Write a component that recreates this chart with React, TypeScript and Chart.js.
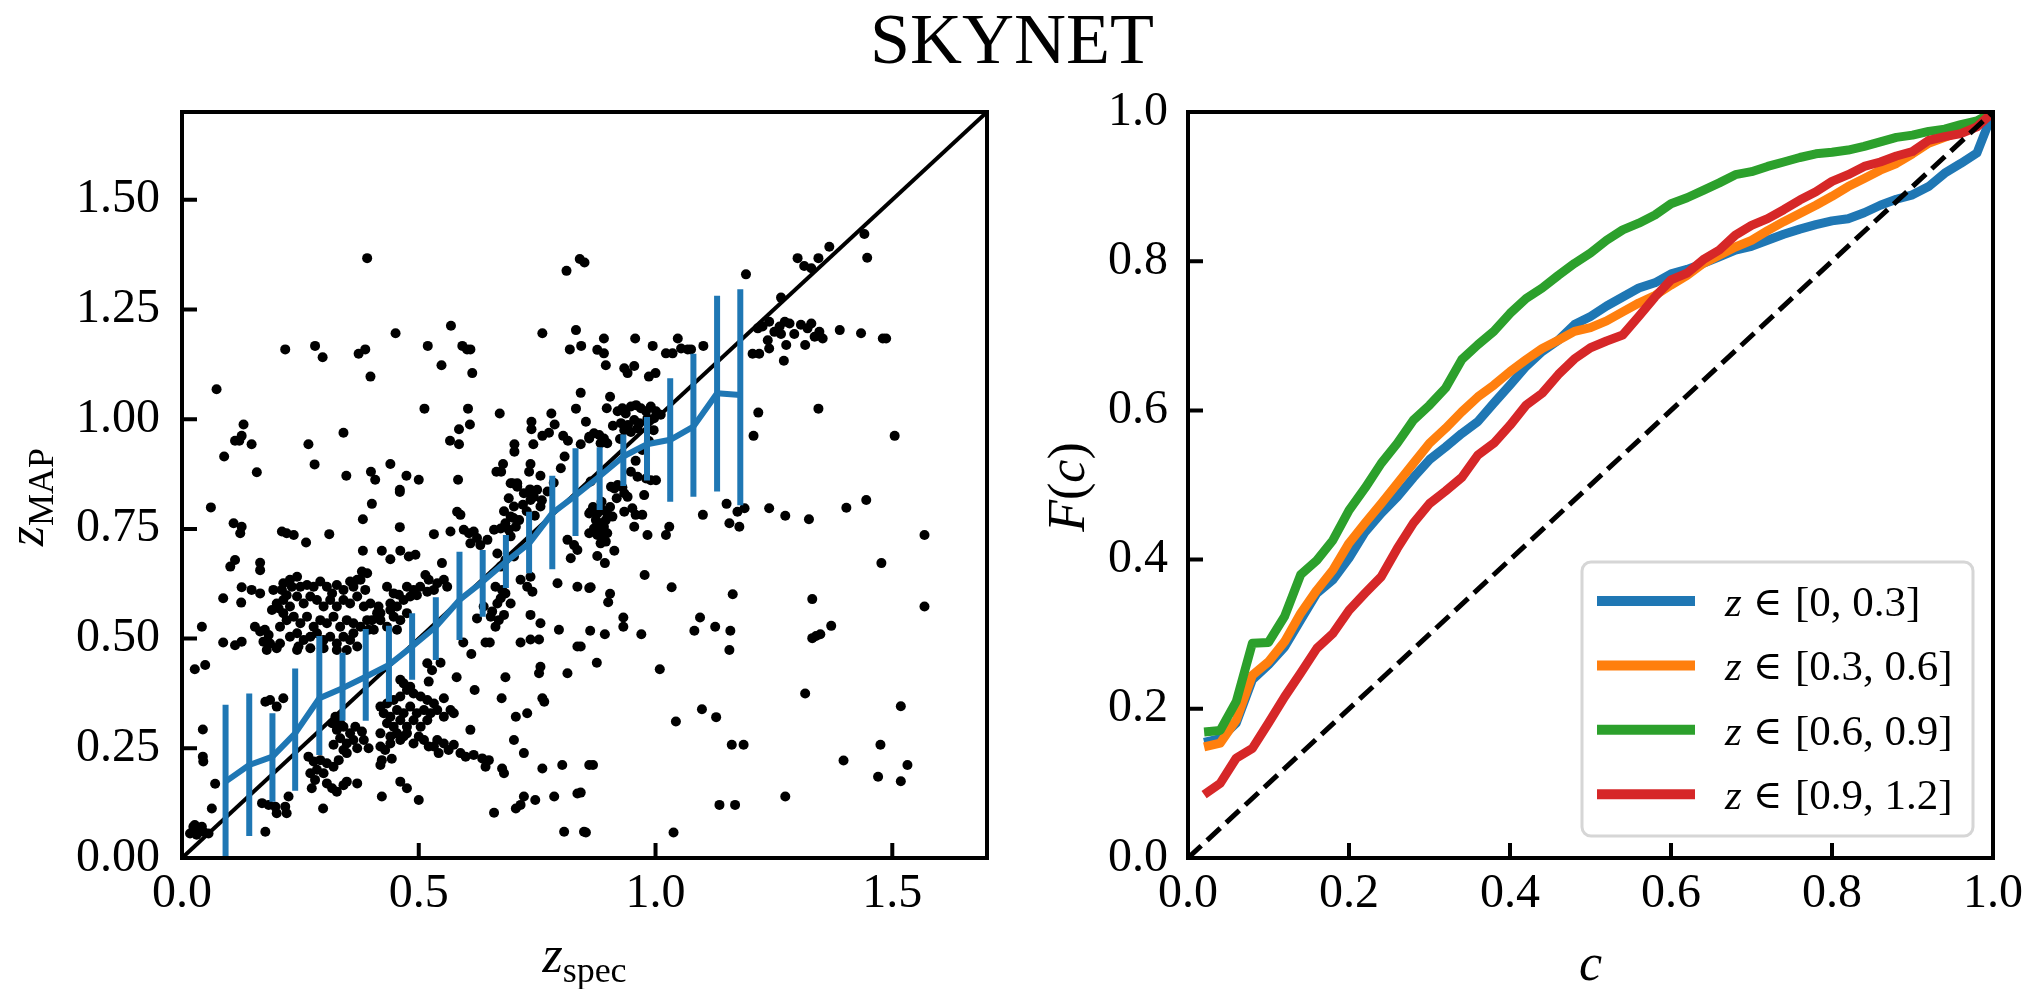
import React, { useEffect, useRef } from "react";
import { Chart, registerables } from "chart.js";

Chart.register(...registerables);

const SERIF = "'Liberation Serif', 'Times New Roman', Times, 'DejaVu Serif', serif";
const BLUE = "#1f77b4";
const ORANGE = "#ff7f0e";
const GREEN = "#2ca02c";
const RED = "#d62728";

const TITLE = "SKYNET";

// ---------- left panel: z_MAP vs z_spec ----------
const galaxies: [number, number][] = [
  [0.391, 1.367], [0.812, 1.338], [0.840, 1.365], [0.850, 1.357], [0.073, 1.068], [0.218, 1.159], [0.281, 1.167],
  [0.297, 1.141], [0.373, 1.149], [0.387, 1.159], [0.398, 1.097], [0.451, 1.196], [0.519, 1.167], [0.548, 1.123],
  [0.568, 1.213], [0.592, 1.167], [0.602, 1.159], [0.609, 1.159], [0.613, 1.105], [0.512, 1.024], [0.604, 1.024],
  [0.585, 0.977], [0.608, 0.988], [0.566, 0.951], [0.585, 0.943], [0.671, 1.013], [0.761, 1.196], [0.832, 1.203],
  [0.819, 1.159], [0.843, 1.167], [0.842, 1.060], [0.832, 1.024], [0.853, 0.994], [0.780, 1.013], [0.787, 0.988],
  [0.738, 0.994], [0.738, 0.977], [0.761, 0.962], [0.775, 0.969], [0.805, 0.962], [0.815, 0.951], [0.842, 0.943],
  [0.860, 0.960], [0.742, 0.943], [0.702, 0.943], [0.702, 0.926], [0.808, 0.915], [0.800, 0.888], [0.736, 0.898],
  [0.733, 0.880], [0.757, 0.871], [0.678, 0.898], [0.664, 0.880], [0.674, 0.880], [0.698, 0.854], [0.708, 0.854],
  [0.735, 0.840], [0.130, 0.988], [0.112, 0.951], [0.121, 0.951], [0.126, 0.962], [0.147, 0.943], [0.089, 0.915],
  [0.158, 0.879], [0.341, 0.969], [0.267, 0.943], [0.280, 0.897], [0.347, 0.871], [0.399, 0.880], [0.408, 0.862],
  [0.440, 0.898], [0.474, 0.871], [0.500, 0.862], [0.583, 0.862], [0.460, 0.839],
  [1.191, 1.330], [1.300, 1.367], [1.314, 1.349], [1.329, 1.344], [1.344, 1.367], [1.367, 1.393], [1.441, 1.422],
  [1.447, 1.368], [1.265, 1.277], [1.216, 1.207], [1.226, 1.211], [1.240, 1.222], [1.251, 1.199], [1.262, 1.211],
  [1.273, 1.222], [1.283, 1.218], [1.293, 1.194], [1.307, 1.215], [1.321, 1.207], [1.329, 1.218], [1.336, 1.188],
  [1.346, 1.199], [1.353, 1.184], [1.237, 1.180], [1.265, 1.194], [1.276, 1.169], [1.240, 1.161], [1.316, 1.169],
  [1.389, 1.203], [1.434, 1.196], [1.480, 1.184], [1.487, 1.184], [1.205, 1.149], [1.219, 1.149], [1.271, 1.133],
  [0.891, 1.184], [0.957, 1.184], [0.994, 1.167], [1.047, 1.184], [1.022, 1.150], [1.036, 1.150], [1.054, 1.161],
  [1.068, 1.159], [1.075, 1.159], [1.101, 1.167], [0.877, 1.158], [0.891, 1.150], [0.895, 1.123], [0.934, 1.116],
  [0.941, 1.105], [0.955, 1.121], [0.986, 1.097], [1.000, 1.105], [0.904, 1.051], [0.897, 1.025],
  [0.920, 1.018], [0.930, 1.025], [0.937, 1.013], [0.948, 1.029], [0.959, 1.032], [0.969, 1.025], [0.980, 1.018],
  [0.990, 1.029], [1.001, 1.018], [1.011, 1.010], [0.927, 0.991], [0.942, 0.987], [0.955, 0.998], [0.966, 0.991],
  [0.983, 1.002], [0.997, 1.002], [0.934, 0.975], [0.948, 0.971], [0.962, 0.979], [0.860, 0.956], [0.870, 0.968],
  [0.881, 0.964], [0.891, 0.956], [0.898, 0.945], [0.884, 0.945], [0.962, 0.869], [0.980, 0.865], [0.990, 0.861],
  [1.001, 0.861], [0.920, 0.850], [0.906, 0.846], [1.217, 1.015], [1.207, 0.962], [1.344, 1.024], [1.505, 0.962],
  [0.863, 0.858], [0.913, 0.842], [0.934, 0.831], [0.941, 0.823], [0.976, 0.827],
  [0.863, 0.789], [0.877, 0.785], [0.888, 0.793], [0.898, 0.785], [0.874, 0.770], [0.884, 0.763], [0.895, 0.770],
  [0.870, 0.751], [0.881, 0.747], [0.891, 0.755], [0.877, 0.736], [0.888, 0.729], [0.884, 0.717], [0.895, 0.721],
  [0.898, 0.740], [0.909, 0.778], [0.934, 0.789], [0.951, 0.797], [0.958, 0.782], [0.972, 0.782], [0.955, 0.755],
  [0.983, 0.736], [1.029, 0.755], [1.022, 0.736], [1.100, 0.782], [1.150, 0.807], [1.156, 0.763], [1.177, 0.755],
  [1.173, 0.789], [1.188, 0.797], [1.240, 0.797], [1.274, 0.780], [1.324, 0.772], [1.403, 0.798], [1.445, 0.816],
  [1.568, 0.736], [1.477, 0.672], [0.913, 0.700], [0.877, 0.688], [0.893, 0.672], [0.977, 0.645], [1.034, 0.617],
  [1.163, 0.601], [1.331, 0.590], [1.568, 0.573], [0.863, 0.617], [0.904, 0.602], [0.900, 0.583], [0.932, 0.548],
  [0.932, 0.527], [0.862, 0.518], [0.893, 0.510], [0.970, 0.510], [1.082, 0.518], [1.094, 0.548], [1.126, 0.527],
  [1.158, 0.518], [1.156, 0.474], [0.842, 0.482], [0.876, 0.445], [1.009, 0.430], [1.316, 0.375], [1.518, 0.346],
  [1.043, 0.311], [1.098, 0.339], [1.128, 0.321], [1.161, 0.258], [1.186, 0.258], [1.475, 0.258], [1.397, 0.222],
  [1.532, 0.212], [1.470, 0.185], [1.518, 0.175], [0.868, 0.212], [0.842, 0.149], [1.274, 0.140], [1.135, 0.121],
  [1.168, 0.121], [0.853, 0.058], [1.038, 0.058], [1.331, 0.501], [1.339, 0.506], [1.348, 0.510], [1.371, 0.529],
  [0.061, 0.799], [0.109, 0.763], [0.126, 0.755], [0.123, 0.740], [0.211, 0.744], [0.221, 0.740], [0.236, 0.736],
  [0.262, 0.719], [0.311, 0.738], [0.382, 0.772], [0.401, 0.807], [0.460, 0.834], [0.460, 0.754], [0.532, 0.738],
  [0.567, 0.744], [0.581, 0.789], [0.588, 0.782], [0.595, 0.748], [0.606, 0.740], [0.616, 0.744], [0.623, 0.729],
  [0.609, 0.717], [0.630, 0.713], [0.645, 0.725], [0.659, 0.748], [0.673, 0.751], [0.683, 0.763], [0.690, 0.748],
  [0.694, 0.733], [0.705, 0.755], [0.712, 0.770], [0.680, 0.790], [0.694, 0.778], [0.701, 0.801], [0.694, 0.854],
  [0.708, 0.846], [0.722, 0.831], [0.736, 0.816], [0.743, 0.823], [0.757, 0.801], [0.733, 0.831], [0.750, 0.839],
  [0.814, 0.725], [0.828, 0.713], [0.835, 0.702], [0.821, 0.683], [0.860, 0.785], [0.860, 0.740],
  [0.666, 0.694], [0.683, 0.679], [0.701, 0.687], [0.673, 0.664],
  [0.102, 0.664], [0.112, 0.679], [0.165, 0.673], [0.165, 0.656], [0.382, 0.700], [0.422, 0.700], [0.440, 0.681],
  [0.461, 0.700], [0.479, 0.687], [0.493, 0.691], [0.380, 0.653], [0.370, 0.634], [0.514, 0.645], [0.549, 0.672],
  [0.521, 0.634], [0.539, 0.626], [0.553, 0.634], [0.560, 0.618], [0.532, 0.611], [0.503, 0.618], [0.489, 0.611],
  [0.475, 0.618], [0.458, 0.600], [0.447, 0.603], [0.433, 0.618], [0.440, 0.580], [0.454, 0.573], [0.468, 0.588],
  [0.482, 0.596], [0.496, 0.599], [0.518, 0.607], [0.447, 0.550], [0.461, 0.542], [0.475, 0.558], [0.433, 0.527],
  [0.454, 0.520], [0.440, 0.565], [0.419, 0.558], [0.415, 0.573], [0.087, 0.592], [0.125, 0.582], [0.126, 0.617],
  [0.147, 0.611], [0.165, 0.603], [0.042, 0.527], [0.027, 0.430], [0.049, 0.440], [0.087, 0.491], [0.112, 0.485],
  [0.126, 0.493], [0.154, 0.527], [0.165, 0.516], [0.175, 0.520], [0.183, 0.508], [0.172, 0.493], [0.186, 0.489],
  [0.179, 0.474], [0.200, 0.478], [0.207, 0.489], [0.190, 0.565], [0.200, 0.580], [0.211, 0.611], [0.221, 0.599],
  [0.232, 0.618], [0.193, 0.611],
  [0.214, 0.626], [0.228, 0.634], [0.243, 0.641], [0.250, 0.618], [0.264, 0.622], [0.278, 0.618], [0.292, 0.630],
  [0.306, 0.618], [0.317, 0.603], [0.327, 0.622], [0.341, 0.611], [0.355, 0.630], [0.362, 0.618], [0.377, 0.634],
  [0.387, 0.611], [0.391, 0.649], [0.214, 0.588], [0.228, 0.573], [0.243, 0.596], [0.257, 0.580], [0.271, 0.596],
  [0.285, 0.588], [0.299, 0.573], [0.313, 0.588], [0.327, 0.573], [0.341, 0.588], [0.355, 0.580], [0.370, 0.596],
  [0.384, 0.573], [0.398, 0.580], [0.221, 0.542], [0.236, 0.550], [0.250, 0.535], [0.264, 0.550], [0.278, 0.527],
  [0.292, 0.542], [0.306, 0.535], [0.320, 0.550], [0.334, 0.527], [0.348, 0.542], [0.362, 0.535], [0.377, 0.527],
  [0.391, 0.542], [0.228, 0.504], [0.243, 0.512], [0.257, 0.497], [0.271, 0.504], [0.285, 0.512], [0.299, 0.497],
  [0.313, 0.504], [0.327, 0.489], [0.341, 0.504], [0.355, 0.497], [0.370, 0.482], [0.348, 0.474], [0.327, 0.474],
  [0.362, 0.512], [0.207, 0.527], [0.214, 0.558], [0.204, 0.569], [0.401, 0.542], [0.412, 0.558], [0.419, 0.542],
  [0.394, 0.520], [0.405, 0.520], [0.246, 0.482], [0.243, 0.474], [0.271, 0.478], [0.299, 0.478],
  [0.419, 0.345], [0.433, 0.352], [0.447, 0.360], [0.461, 0.368], [0.468, 0.398], [0.475, 0.383], [0.489, 0.375],
  [0.504, 0.368], [0.518, 0.360], [0.532, 0.352], [0.553, 0.364], [0.567, 0.337], [0.574, 0.330], [0.426, 0.330],
  [0.440, 0.322], [0.454, 0.337], [0.468, 0.330], [0.482, 0.345], [0.496, 0.330], [0.511, 0.337], [0.525, 0.330],
  [0.539, 0.337], [0.553, 0.322], [0.433, 0.307], [0.447, 0.299], [0.461, 0.314], [0.475, 0.299], [0.489, 0.314],
  [0.504, 0.299], [0.518, 0.314], [0.419, 0.284], [0.440, 0.277], [0.454, 0.284], [0.468, 0.277], [0.461, 0.406],
  [0.482, 0.390],
  [0.317, 0.307], [0.327, 0.292], [0.341, 0.299], [0.355, 0.284], [0.366, 0.299], [0.380, 0.288], [0.334, 0.273],
  [0.348, 0.261], [0.362, 0.269], [0.384, 0.269], [0.320, 0.258], [0.341, 0.246], [0.370, 0.250], [0.394, 0.250],
  [0.324, 0.322], [0.334, 0.307],
  [0.267, 0.231], [0.278, 0.220], [0.285, 0.201], [0.271, 0.193], [0.281, 0.178], [0.292, 0.223], [0.306, 0.216],
  [0.320, 0.208], [0.274, 0.159], [0.306, 0.170], [0.317, 0.159], [0.327, 0.151], [0.341, 0.166], [0.348, 0.174],
  [0.370, 0.170], [0.299, 0.193], [0.331, 0.223], [0.348, 0.239], [0.298, 0.113],
  [0.419, 0.254], [0.429, 0.246], [0.440, 0.261], [0.422, 0.223], [0.443, 0.226], [0.419, 0.212], [0.461, 0.269],
  [0.475, 0.284], [0.489, 0.261], [0.500, 0.277], [0.511, 0.269], [0.521, 0.254], [0.532, 0.254], [0.539, 0.269],
  [0.542, 0.239], [0.553, 0.261], [0.563, 0.246], [0.574, 0.258], [0.588, 0.239], [0.599, 0.231], [0.609, 0.292],
  [0.616, 0.235], [0.634, 0.227], [0.641, 0.208], [0.648, 0.223], [0.676, 0.204], [0.680, 0.193], [0.701, 0.269],
  [0.722, 0.239], [0.729, 0.330], [0.705, 0.322], [0.618, 0.383], [0.580, 0.412], [0.521, 0.402], [0.518, 0.444],
  [0.528, 0.428], [0.546, 0.445], [0.594, 0.491], [0.611, 0.465], [0.641, 0.491], [0.650, 0.491], [0.623, 0.546],
  [0.637, 0.573], [0.652, 0.550], [0.662, 0.527], [0.669, 0.542], [0.680, 0.554], [0.673, 0.592], [0.676, 0.611],
  [0.666, 0.580], [0.694, 0.580], [0.683, 0.603], [0.662, 0.618], [0.655, 0.562], [0.715, 0.491], [0.736, 0.498],
  [0.754, 0.498], [0.736, 0.554], [0.757, 0.535], [0.796, 0.520], [0.814, 0.421], [0.835, 0.482], [0.757, 0.436],
  [0.754, 0.421], [0.683, 0.412], [0.675, 0.364], [0.761, 0.364], [0.765, 0.356], [0.761, 0.204], [0.803, 0.212],
  [0.722, 0.140], [0.746, 0.132], [0.786, 0.140], [0.835, 0.147], [0.860, 0.212], [0.705, 0.113], [0.715, 0.121],
  [0.659, 0.103], [0.807, 0.060], [0.849, 0.060], [0.422, 0.140], [0.461, 0.174], [0.475, 0.159], [0.500, 0.132],
  [0.793, 0.626], [0.835, 0.618], [0.860, 0.615], [0.736, 0.641], [0.729, 0.618], [0.715, 0.634], [0.740, 0.607],
  [0.024, 0.071], [0.035, 0.064], [0.045, 0.060], [0.056, 0.056], [0.031, 0.053], [0.017, 0.056], [0.027, 0.075],
  [0.042, 0.071], [0.063, 0.113], [0.070, 0.169], [0.044, 0.293], [0.044, 0.231], [0.045, 0.220], [0.176, 0.060],
  [0.169, 0.125], [0.183, 0.121], [0.200, 0.102], [0.197, 0.117], [0.221, 0.102], [0.225, 0.140], [0.218, 0.117],
  [0.176, 0.356], [0.186, 0.360], [0.200, 0.345], [0.214, 0.364],
  [0.868, 0.800], [0.886, 0.812], [0.904, 0.800], [0.918, 0.820], [0.930, 0.845], [0.948, 0.880], [0.958, 0.905],
  [0.972, 0.930], [0.986, 0.950], [0.996, 0.975], [0.925, 0.955], [0.910, 0.985], [0.720, 0.805], [0.728, 0.790],
  [0.745, 0.780], [0.760, 0.815], [0.772, 0.835], [0.785, 0.855], [0.700, 0.775], [0.690, 0.820],
];

const binZ = [0.092, 0.142, 0.191, 0.239, 0.290, 0.339, 0.388, 0.437, 0.486, 0.536, 0.586, 0.635,
  0.684, 0.733, 0.782, 0.831, 0.882, 0.932, 0.982, 1.031, 1.080, 1.130, 1.179];
const binMean = [0.174, 0.212, 0.231, 0.284, 0.364, 0.387, 0.413, 0.440, 0.482, 0.527, 0.588, 0.630,
  0.675, 0.717, 0.786, 0.826, 0.870, 0.915, 0.943, 0.953, 0.983, 1.059, 1.055];
const binLow = [0.0, 0.050, 0.128, 0.153, 0.235, 0.313, 0.313, 0.356, 0.406, 0.451, 0.497, 0.550,
  0.615, 0.649, 0.658, 0.734, 0.793, 0.848, 0.860, 0.812, 0.823, 0.835, 0.804];
const binHigh = [0.349, 0.375, 0.330, 0.432, 0.506, 0.468, 0.522, 0.529, 0.558, 0.594, 0.698, 0.702,
  0.736, 0.789, 0.871, 0.934, 0.936, 0.965, 1.005, 1.093, 1.149, 1.281, 1.296];

const leftRange = [0, 1.7];
const leftXTicks = [0, 0.5, 1.0, 1.5];
const leftYTicks = [0, 0.25, 0.5, 0.75, 1.0, 1.25, 1.5];

// ---------- right panel: F(c) ----------
const cGrid = [0.02, 0.04, 0.06, 0.08, 0.10, 0.12, 0.14, 0.16, 0.18, 0.20,
  0.22, 0.24, 0.26, 0.28, 0.30, 0.32, 0.34, 0.36, 0.38, 0.40,
  0.42, 0.44, 0.46, 0.48, 0.50, 0.52, 0.54, 0.56, 0.58, 0.60,
  0.62, 0.64, 0.66, 0.68, 0.70, 0.72, 0.74, 0.76, 0.78, 0.80,
  0.82, 0.84, 0.86, 0.88, 0.90, 0.92, 0.94, 0.96, 0.98, 1.00];
const fBin1 = [0.155, 0.160, 0.181, 0.239, 0.259, 0.283, 0.319, 0.355, 0.373, 0.402,
  0.437, 0.462, 0.484, 0.510, 0.534, 0.551, 0.569, 0.585, 0.610, 0.634,
  0.659, 0.679, 0.694, 0.715, 0.726, 0.740, 0.752, 0.764, 0.771, 0.783,
  0.789, 0.797, 0.806, 0.815, 0.820, 0.828, 0.836, 0.843, 0.849, 0.854,
  0.857, 0.865, 0.875, 0.883, 0.889, 0.900, 0.918, 0.931, 0.945, 1.0];
const fBin2 = [0.149, 0.154, 0.185, 0.245, 0.263, 0.290, 0.328, 0.359, 0.386, 0.422,
  0.449, 0.475, 0.502, 0.529, 0.556, 0.576, 0.598, 0.618, 0.634, 0.652,
  0.668, 0.683, 0.694, 0.706, 0.711, 0.720, 0.732, 0.744, 0.754, 0.768,
  0.781, 0.797, 0.808, 0.819, 0.828, 0.841, 0.853, 0.864, 0.875, 0.887,
  0.900, 0.911, 0.922, 0.931, 0.944, 0.958, 0.966, 0.974, 0.983, 1.0];
const fBin3 = [0.169, 0.171, 0.210, 0.288, 0.289, 0.324, 0.380, 0.399, 0.426, 0.466,
  0.496, 0.529, 0.556, 0.587, 0.607, 0.630, 0.668, 0.688, 0.706, 0.730,
  0.750, 0.764, 0.781, 0.797, 0.811, 0.828, 0.842, 0.851, 0.862, 0.877,
  0.885, 0.895, 0.905, 0.916, 0.920, 0.927, 0.933, 0.939, 0.944, 0.946,
  0.949, 0.954, 0.960, 0.966, 0.969, 0.974, 0.977, 0.983, 0.988, 1.0];
const fBin4 = [0.085, 0.100, 0.134, 0.147, 0.181, 0.216, 0.248, 0.281, 0.301, 0.332,
  0.355, 0.377, 0.415, 0.449, 0.475, 0.492, 0.510, 0.540, 0.556, 0.580,
  0.607, 0.623, 0.648, 0.669, 0.684, 0.693, 0.701, 0.726, 0.752, 0.775,
  0.784, 0.802, 0.815, 0.835, 0.848, 0.857, 0.869, 0.882, 0.893, 0.907,
  0.916, 0.927, 0.933, 0.941, 0.947, 0.962, 0.967, 0.971, 0.980, 1.0];
const binLabels = ["z ∈ [0, 0.3]", "z ∈ [0.3, 0.6]", "z ∈ [0.6, 0.9]", "z ∈ [0.9, 1.2]"];
const binColors = [BLUE, ORANGE, GREEN, RED];
const rightTicks = [0, 0.2, 0.4, 0.6, 0.8, 1.0];

// ---------- shared helpers ----------
const TICK_FONT = { family: SERIF, size: 48 };

const frameTicksPlugin = {
  id: "frameTicks",
  afterDatasetsDraw(chart: any) {
    const { ctx, chartArea: a } = chart;
    const xs = chart.scales.x;
    const ys = chart.scales.y;
    ctx.save();
    ctx.strokeStyle = "#000";
    ctx.lineCap = "butt";
    ctx.lineWidth = 4;
    ctx.beginPath();
    for (const t of xs.ticks) {
      const p = xs.getPixelForValue(t.value);
      ctx.moveTo(p, a.bottom);
      ctx.lineTo(p, a.bottom - 15);
    }
    for (const t of ys.ticks) {
      const p = ys.getPixelForValue(t.value);
      ctx.moveTo(a.left, p);
      ctx.lineTo(a.left + 15, p);
    }
    ctx.stroke();
    ctx.lineWidth = 4;
    ctx.strokeRect(a.left, a.top, a.right - a.left, a.bottom - a.top);
    ctx.restore();
  },
};

type Part = { text: string; italic?: boolean; size: number; shift?: number };

function drawParts(ctx: CanvasRenderingContext2D, parts: Part[], x: number, y: number, center = true) {
  const widths = parts.map((p) => {
    ctx.font = `${p.italic ? "italic " : ""}${p.size}px ${SERIF}`;
    return ctx.measureText(p.text).width;
  });
  const total = widths.reduce((s, w) => s + w, 0);
  let cx = center ? x - total / 2 : x;
  parts.forEach((p, i) => {
    ctx.font = `${p.italic ? "italic " : ""}${p.size}px ${SERIF}`;
    ctx.fillText(p.text, cx, y + (p.shift || 0));
    cx += widths[i];
  });
}

function linearAxis(range: number[], ticks: number[], digits: number, isX: boolean, fitSize: number, padding: number) {
  return {
    type: "linear" as const,
    min: range[0],
    max: range[1],
    grid: { display: false, drawTicks: false },
    border: { display: false },
    afterBuildTicks: (s: any) => {
      s.ticks = ticks.map((v) => ({ value: v }));
    },
    afterFit: (s: any) => {
      if (isX) s.height = fitSize;
      else s.width = fitSize;
    },
    ticks: {
      font: TICK_FONT,
      color: "#000",
      padding,
      autoSkip: false,
      maxRotation: 0,
      minRotation: 0,
      callback: (v: any) => Number(v).toFixed(digits),
    },
  };
}

const leftLabelsPlugin = {
  id: "leftLabels",
  afterDraw(chart: any) {
    const { ctx, chartArea: a } = chart;
    ctx.save();
    ctx.fillStyle = "#000";
    ctx.textBaseline = "alphabetic";
    ctx.textAlign = "left";
    drawParts(ctx, [
      { text: "z", italic: true, size: 52 },
      { text: "spec", size: 36, shift: 10 },
    ], (a.left + a.right) / 2, 972);
    ctx.translate(43, 497);
    ctx.rotate(-Math.PI / 2);
    drawParts(ctx, [
      { text: "z", italic: true, size: 52 },
      { text: "MAP", size: 36, shift: 10 },
    ], 0, 0);
    ctx.restore();
  },
};

const rightLabelsPlugin = {
  id: "rightLabels",
  afterDraw(chart: any) {
    const { ctx, chartArea: a } = chart;
    ctx.save();
    ctx.fillStyle = "#000";
    ctx.textBaseline = "alphabetic";
    ctx.textAlign = "left";
    drawParts(ctx, [{ text: "c", italic: true, size: 52 }], (a.left + a.right) / 2, 980);
    ctx.save();
    ctx.translate(74, 487);
    ctx.rotate(-Math.PI / 2);
    drawParts(ctx, [
      { text: "F", italic: true, size: 52 },
      { text: "(", size: 52 },
      { text: "c", italic: true, size: 52 },
      { text: ")", size: 52 },
    ], 0, 0);
    ctx.restore();

    // legend
    const box = { left: 572, right: 963, top: 562, bottom: 836, r: 9 };
    ctx.beginPath();
    ctx.moveTo(box.left + box.r, box.top);
    ctx.arcTo(box.right, box.top, box.right, box.bottom, box.r);
    ctx.arcTo(box.right, box.bottom, box.left, box.bottom, box.r);
    ctx.arcTo(box.left, box.bottom, box.left, box.top, box.r);
    ctx.arcTo(box.left, box.top, box.right, box.top, box.r);
    ctx.closePath();
    ctx.fillStyle = "rgba(255,255,255,0.8)";
    ctx.fill();
    ctx.strokeStyle = "#d6d6d6";
    ctx.lineWidth = 3;
    ctx.stroke();
    chart.data.datasets.forEach((ds: any, i: number) => {
      if (!ds.label) return;
      const rowY = 601 + i * 64.4;
      ctx.strokeStyle = ds.borderColor;
      ctx.lineWidth = 10;
      ctx.lineCap = "butt";
      ctx.beginPath();
      ctx.moveTo(587, rowY);
      ctx.lineTo(685, rowY);
      ctx.stroke();
      ctx.fillStyle = "#000";
      const [sym, rest] = ds.label.split(" ∈ ");
      ctx.font = `italic 43px ${SERIF}`;
      ctx.fillText(sym, 715, rowY + 15);
      ctx.font = `40px ${SERIF}`;
      ctx.fillText("∈", 743, rowY + 14);
      ctx.font = `43px ${SERIF}`;
      ctx.fillText(rest, 785, rowY + 15);
    });
    ctx.restore();
  },
};

export default function App() {
  const leftRef = useRef<HTMLCanvasElement>(null);
  const rightRef = useRef<HTMLCanvasElement>(null);

  useEffect(() => {
    const errData: any[] = [];
    binZ.forEach((z, i) => {
      errData.push({ x: z, y: binLow[i] });
      errData.push({ x: z, y: binHigh[i] });
      errData.push({ x: z, y: null });
    });
    const left = new Chart(leftRef.current!, {
      type: "scatter",
      data: {
        datasets: [
          {
            type: "scatter",
            data: galaxies.map(([x, y]) => ({ x, y })),
            pointRadius: 5,
            pointBorderWidth: 0,
            backgroundColor: "#000",
            borderColor: "#000",
            order: 4,
            clip: 0,
          } as any,
          {
            type: "line",
            data: [{ x: leftRange[0], y: leftRange[0] }, { x: leftRange[1], y: leftRange[1] }],
            borderColor: "#000",
            borderWidth: 4,
            pointRadius: 0,
            order: 3,
            clip: 0,
          } as any,
          {
            type: "line",
            data: errData,
            borderColor: BLUE,
            borderWidth: 6,
            pointRadius: 0,
            spanGaps: false,
            order: 2,
            clip: 0,
          } as any,
          {
            type: "line",
            data: binZ.map((z, i) => ({ x: z, y: binMean[i] })),
            borderColor: BLUE,
            borderWidth: 6,
            borderJoinStyle: "round",
            pointRadius: 0,
            order: 1,
            clip: 0,
          } as any,
        ],
      },
      options: {
        animation: false,
        responsive: false,
        devicePixelRatio: 1,
        events: [],
        layout: { padding: { left: 0, right: 23, top: 112, bottom: 0 } },
        plugins: { legend: { display: false }, tooltip: { enabled: false }, title: { display: false } },
        scales: {
          x: linearAxis(leftRange, leftXTicks, 1, true, 131, 8),
          y: linearAxis(leftRange, leftYTicks, 2, false, 182, 22),
        },
      } as any,
      plugins: [frameTicksPlugin, leftLabelsPlugin],
    });

    const curves = [fBin1, fBin2, fBin3, fBin4];
    const right = new Chart(rightRef.current!, {
      type: "line",
      data: {
        datasets: [
          ...curves.map((vals, i) => ({
            label: binLabels[i],
            data: cGrid.map((c, j) => ({ x: c, y: vals[j] })),
            borderColor: binColors[i],
            borderWidth: 9,
            borderJoinStyle: "round",
            pointRadius: 0,
            order: 5 - i,
            clip: 0,
          })),
          {
            label: "",
            data: [{ x: 0, y: 0 }, { x: 1, y: 1 }],
            borderColor: "#000",
            borderWidth: 5,
            borderDash: [18, 8],
            pointRadius: 0,
            order: 0,
            clip: 0,
          },
        ] as any,
      },
      options: {
        animation: false,
        responsive: false,
        devicePixelRatio: 1,
        events: [],
        layout: { padding: { left: 0, right: 38, top: 112, bottom: 0 } },
        plugins: { legend: { display: false }, tooltip: { enabled: false }, title: { display: false } },
        scales: {
          x: linearAxis([0, 1], rightTicks, 1, true, 131, 8),
          y: linearAxis([0, 1], rightTicks, 1, false, 178, 20),
        },
      } as any,
      plugins: [frameTicksPlugin, rightLabelsPlugin],
    });

    return () => {
      left.destroy();
      right.destroy();
    };
  }, []);

  return (
    <div
      style={{
        position: "absolute",
        left: 0,
        top: 0,
        width: 2031,
        height: 989,
        background: "#fff",
        overflow: "hidden",
      }}
    >
      <canvas
        ref={leftRef}
        width={1010}
        height={989}
        style={{ position: "absolute", left: 0, top: 0, width: 1010, height: 989, display: "block" }}
      />
      <canvas
        ref={rightRef}
        width={1021}
        height={989}
        style={{ position: "absolute", left: 1010, top: 0, width: 1021, height: 989, display: "block" }}
      />
      <div
        style={{
          position: "absolute",
          left: 0,
          top: 3,
          width: 2024,
          textAlign: "center",
          fontFamily: SERIF,
          fontSize: 72,
          lineHeight: "72px",
          color: "#000",
        }}
      >
        {TITLE}
      </div>
    </div>
  );
}
